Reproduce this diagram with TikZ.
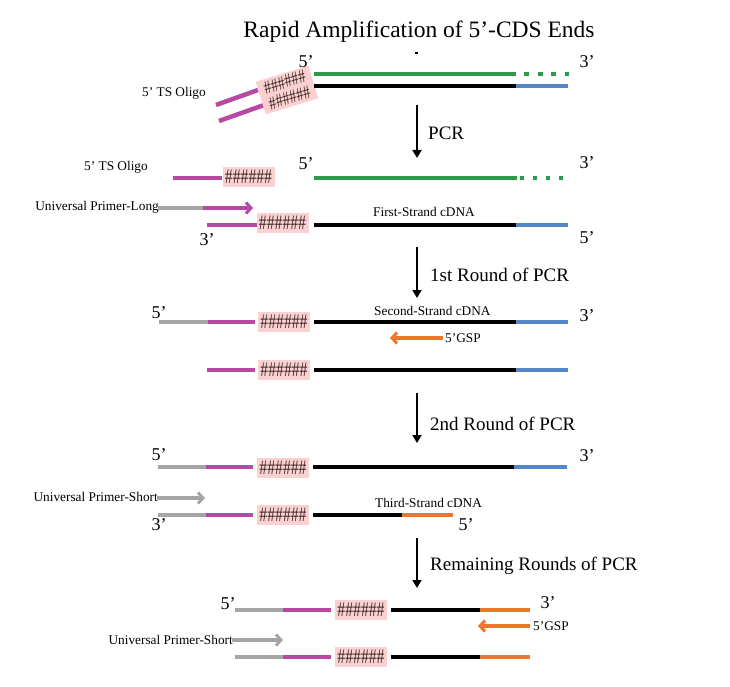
\documentclass[tikz,border=0pt]{standalone}
\usepackage{fontspec}
\setmainfont{Liberation Serif}
\usetikzlibrary{arrows.meta}
\definecolor{cgreen}{RGB}{46,155,74}
\definecolor{cblue}{RGB}{84,135,200}
\definecolor{cmag}{RGB}{184,72,164}
\definecolor{corange}{RGB}{237,120,45}
\definecolor{cgray}{RGB}{165,165,165}
\definecolor{cpink}{RGB}{250,208,208}
\definecolor{chash}{RGB}{60,40,40}
\newcommand{\hashrow}{\scalebox{0.95}[1.25]{\#\#\#\#\#\#}}
\begin{document}
\begin{tikzpicture}[x=1pt,y=-1pt,
  strand/.style={line width=4.5pt},
  hashbox/.style={fill=cpink,inner sep=0pt,minimum width=52pt,minimum height=20pt,font=\fontsize{16.5}{16}\selectfont,text=chash},
  endlbl/.style={font=\fontsize{18}{18}\selectfont,inner sep=0pt},
  steplbl/.style={font=\fontsize{19}{20}\selectfont,inner sep=0pt,anchor=west},
  smalllbl/.style={font=\fontsize{13.3}{14}\selectfont,inner sep=0pt},
  bigarrow/.style={line width=2pt,-{Triangle[length=8pt,width=9pt]}},
  primer/.style={line width=4pt,-{Straight Barb[length=5pt,width=11pt,line width=3pt]}}
]
\useasboundingbox (0,0) rectangle (730,687);
\node[font=\fontsize{23.5}{24}\selectfont,inner sep=0pt] (title) at (419,32) {Rapid Amplification of 5’-CDS Ends};
\draw[line width=1.5pt] (415,53) -- (418,53);

% ---------- Row A ----------
\draw[strand,cmag] (216,105) -- (258,90);
\draw[strand,cmag] (219,121) -- (264,105);
\node[hashbox,rotate=17,minimum width=55pt,minimum height=34pt,align=center,font=\fontsize{15}{16.5}\selectfont] (hA) at (287,90) {\hashrow\\\hashrow};
\draw[strand,cgreen] (314,74) -- (516,74);
\draw[strand,cgreen,dash pattern=on 5pt off 8.5pt] (524,74) -- (569,74);
\draw[strand,black] (314,86) -- (516,86);
\draw[strand,cblue] (516,86) -- (568,86);
\node[endlbl] (a5) at (306,62) {5’};
\node[endlbl] (a3) at (587,62) {3’};
\node[smalllbl] (tsA) at (174,93) {5’ TS Oligo};

\coordinate (s1) at (417,105); \coordinate (e1) at (417,158);
\draw[bigarrow] (s1) -- (e1);
\node[steplbl] (l1) at (428,133) {PCR};

% ---------- Row B ----------
\node[smalllbl] (tsB) at (116,167) {5’ TS Oligo};
\node[endlbl] (b5) at (306,164) {5’};
\node[endlbl] (b3) at (587,163) {3’};
\draw[strand,cmag] (173,178) -- (222,178);
\node[hashbox] (hB1) at (248.5,177) {\hashrow};
\draw[strand,cgreen] (314,178) -- (517,178);
\draw[strand,cgreen,dash pattern=on 4pt off 9pt] (520,178) -- (564,178);
\node[smalllbl,anchor=east] (uplong) at (159,207) {Universal Primer-Long};
\draw[line width=4pt,cgray] (158,208) -- (204,208);
\draw[primer,cmag] (203,208) -- (253,208);
\node[smalllbl,anchor=west] (fs) at (373,212) {First-Strand cDNA};
\draw[strand,cmag] (207,225) -- (257,225);
\node[hashbox] (hB2) at (282.5,223) {\hashrow};
\draw[strand,black] (314,225) -- (516,225);
\draw[strand,cblue] (516,225) -- (568,225);
\node[endlbl] (b3l) at (207,240) {3’};
\node[endlbl] (b5r) at (587,238) {5’};

\coordinate (s2) at (417,247); \coordinate (e2) at (417,298);
\draw[bigarrow] (s2) -- (e2);
\node[steplbl] (l2) at (430,275) {1st Round of PCR};

% ---------- Row C ----------
\node[endlbl] (c5) at (159,313) {5’};
\node[endlbl] (c3) at (587,316) {3’};
\draw[line width=4pt,cgray] (159,322) -- (208,322);
\draw[strand,cmag] (208,322) -- (255,322);
\node[hashbox] (hC1) at (284,322) {\hashrow};
\draw[strand,black] (314,322) -- (516,322);
\draw[strand,cblue] (516,322) -- (568,322);
\node[smalllbl,anchor=west] (ss) at (374,311) {Second-Strand cDNA};
\draw[primer,corange] (443,338) -- (390,338);
\node[smalllbl,anchor=west] (gspC) at (445,338) {5’GSP};
\draw[strand,cmag] (207,370) -- (255,370);
\node[hashbox] (hC2) at (284,370) {\hashrow};
\draw[strand,black] (314,370) -- (516,370);
\draw[strand,cblue] (516,370) -- (568,370);

\coordinate (s3) at (417,393); \coordinate (e3) at (417,443);
\draw[bigarrow] (s3) -- (e3);
\node[steplbl] (l3) at (430,424) {2nd Round of PCR};

% ---------- Row D ----------
\node[endlbl] (d5) at (159,455) {5’};
\node[endlbl] (d3) at (587,456) {3’};
\draw[line width=4pt,cgray] (158,467) -- (207,467);
\draw[strand,cmag] (206,467) -- (253,467);
\node[hashbox] (hD1) at (283,468) {\hashrow};
\draw[strand,black] (313,467) -- (514,467);
\draw[strand,cblue] (514,467) -- (567,467);
\node[smalllbl,anchor=east] (upshortD) at (158,497) {Universal Primer-Short};
\draw[primer,cgray] (157,498) -- (205,498);
\node[smalllbl,anchor=west] (ts) at (375,503) {Third-Strand cDNA};
\draw[line width=4pt,cgray] (158,515) -- (207,515);
\draw[strand,cmag] (206,515) -- (253,515);
\node[hashbox] (hD2) at (283,515) {\hashrow};
\draw[strand,black] (313,515) -- (402,515);
\draw[strand,corange] (402,515) -- (453,515);
\node[endlbl] (d3l) at (159,525) {3’};
\node[endlbl] (d5r) at (466,525) {5’};

\coordinate (s4) at (417,538); \coordinate (e4) at (417,588);
\draw[bigarrow] (s4) -- (e4);
\node[steplbl] (l4) at (430,566) {Remaining Rounds of PCR};

% ---------- Row E ----------
\node[endlbl] (e5) at (228,604) {5’};
\node[endlbl] (e3r) at (548,603) {3’};
\draw[line width=4pt,cgray] (235,610) -- (284,610);
\draw[strand,cmag] (283,610) -- (331,610);
\node[hashbox] (hE1) at (361,610) {\hashrow};
\draw[strand,black] (391,610) -- (480,610);
\draw[strand,corange] (480,610) -- (530,610);
\draw[primer,corange] (530,626) -- (478,626);
\node[smalllbl,anchor=west] (gspE) at (533,626) {5’GSP};
\node[smalllbl,anchor=east] (upshortE) at (233,640) {Universal Primer-Short};
\draw[primer,cgray] (232,640) -- (283,640);
\draw[line width=4pt,cgray] (235,657) -- (284,657);
\draw[strand,cmag] (283,657) -- (331,657);
\node[hashbox] (hE2) at (361,657) {\hashrow};
\draw[strand,black] (391,657) -- (480,657);
\draw[strand,corange] (480,657) -- (530,657);
\end{tikzpicture}
\end{document}
